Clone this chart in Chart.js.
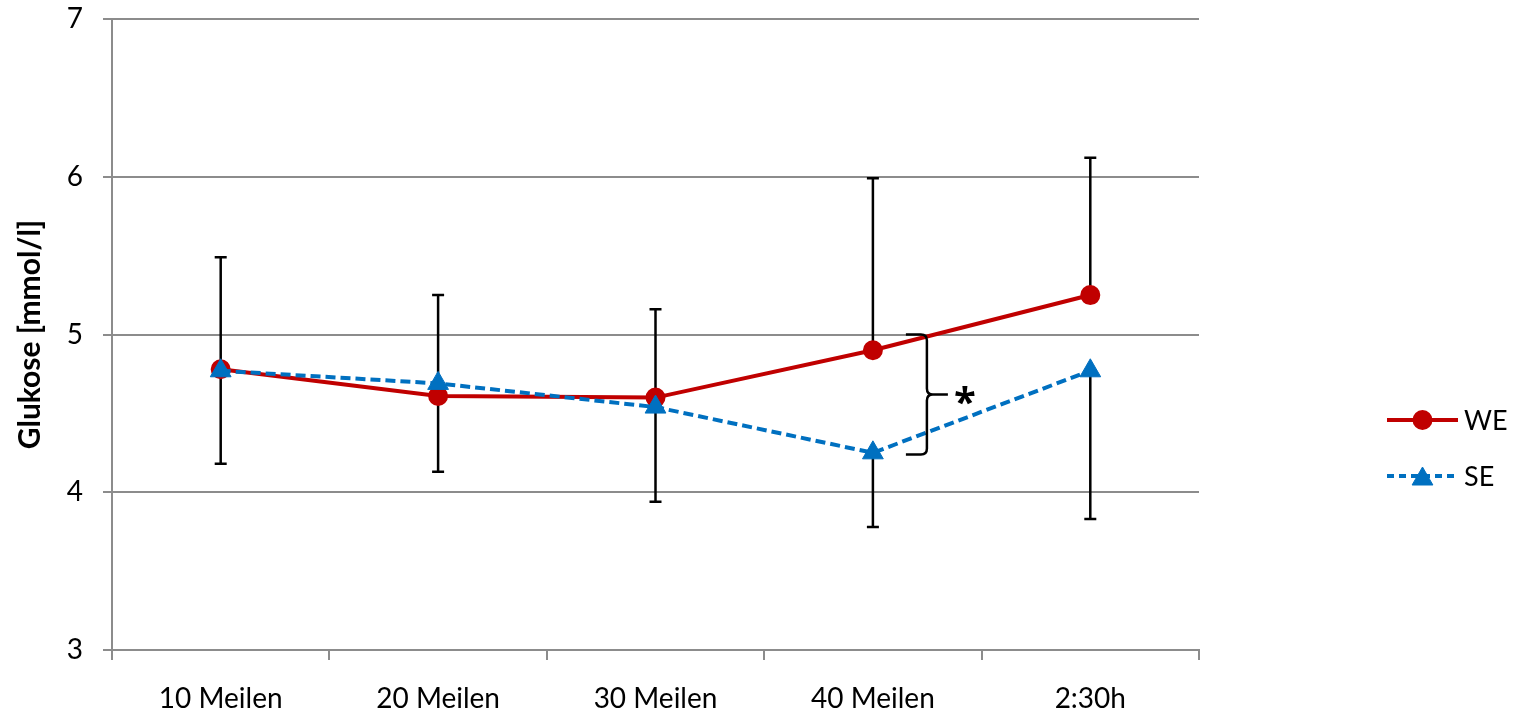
<!DOCTYPE html>
<html>
<head>
<meta charset="utf-8">
<script src="https://cdn.jsdelivr.net/npm/chart.js@4.4.1/dist/chart.umd.min.js"></script>
<style>
  html, body { margin: 0; padding: 0; background: #fff; }
  #wrap { width: 1514px; height: 719px; position: relative; }
</style>
</head>
<body>
<div id="wrap"><canvas id="c" width="1514" height="719"></canvas></div>
<script>
// ---- data ----
const categories = ['10 Meilen', '20 Meilen', '30 Meilen', '40 Meilen', '2:30h'];
const weValues = [4.78, 4.61, 4.60, 4.90, 5.25];
const seValues = [4.77, 4.69, 4.54, 4.25, 4.77];
const weErrPlus = [0.71, 0.64, 0.56, 1.09, 0.87];   // WE: upper error bar
const seErrMinus = [0.59, 0.56, 0.60, 0.47, 0.94];  // SE: lower error bar
const yTicks = [3, 4, 5, 6, 7];
const seriesNames = ['WE', 'SE'];
const yTitle = 'Glukose [mmol/l]';
const sigCategory = 3;           // "40 Meilen"
const sigRange = [5.0, 4.24];    // bracket spans these values
const sigLabel = '*';

const FONT = 'Lato, "Open Sans", sans-serif';
const RED = '#C00000';
const BLUE = '#0070C0';
const GRID = '#8c8c8c';

const errorBarPlugin = {
  id: 'errorBars',
  beforeDatasetsDraw(chart) {
    const ctx = chart.ctx, x = chart.scales.x, y = chart.scales.y;
    ctx.save();
    ctx.strokeStyle = '#000';
    ctx.lineWidth = 2.5;
    const cap = 6;
    categories.forEach((c, i) => {
      const px = x.getPixelForValue(i);
      const wTop = y.getPixelForValue(weValues[i] + weErrPlus[i]);
      const wBase = y.getPixelForValue(weValues[i]);
      const sBot = y.getPixelForValue(seValues[i] - seErrMinus[i]);
      const sBase = y.getPixelForValue(seValues[i]);
      ctx.beginPath();
      ctx.moveTo(px, wBase); ctx.lineTo(px, wTop);
      ctx.moveTo(px - cap, wTop); ctx.lineTo(px + cap, wTop);
      ctx.moveTo(px, sBase); ctx.lineTo(px, sBot);
      ctx.moveTo(px - cap, sBot); ctx.lineTo(px + cap, sBot);
      ctx.stroke();
    });
    ctx.restore();
  },
  afterDatasetsDraw(chart) {
    // significance bracket
    const ctx = chart.ctx, x = chart.scales.x, y = chart.scales.y;
    const cx = x.getPixelForValue(sigCategory);
    const top = y.getPixelForValue(sigRange[0]);
    const bot = y.getPixelForValue(sigRange[1]);
    const mid = (top + bot) / 2;
    const xl = cx + 33, xv = cx + 54, xr = cx + 75, r = 6;
    ctx.save();
    ctx.strokeStyle = '#000';
    ctx.lineWidth = 2.5;
    ctx.beginPath();
    ctx.moveTo(xl, top);
    ctx.lineTo(xv - r, top);
    ctx.quadraticCurveTo(xv, top, xv, top + r);
    ctx.lineTo(xv, mid - r);
    ctx.quadraticCurveTo(xv, mid, xv + r, mid);
    ctx.lineTo(xr, mid);
    ctx.moveTo(xv + r, mid);
    ctx.quadraticCurveTo(xv, mid, xv, mid + r);
    ctx.lineTo(xv, bot - r);
    ctx.quadraticCurveTo(xv, bot, xv - r, bot);
    ctx.lineTo(xl, bot);
    ctx.stroke();
    ctx.fillStyle = '#000';
    ctx.font = 'bold 40px "Open Sans", sans-serif';
    ctx.textAlign = 'center';
    ctx.textBaseline = 'alphabetic';
    const m = ctx.measureText(sigLabel);
    const a = m.actualBoundingBoxAscent, d = m.actualBoundingBoxDescent;
    const cyStar = mid + 1;
    ctx.fillText(sigLabel, cx + 92, cyStar + (a - d) / 2);
    ctx.restore();
  },
  afterDraw(chart) {
    // custom legend: line + marker + label
    const ctx = chart.ctx;
    const x0 = 1387, x1 = 1458, ys = [420, 476];
    chart.data.datasets.forEach((ds, i) => {
      const yy = ys[i];
      const mx = (x0 + x1) / 2;
      ctx.save();
      ctx.strokeStyle = ds.borderColor;
      ctx.lineWidth = ds.borderWidth;
      ctx.setLineDash(ds.borderDash ? [7, 5] : []);
      ctx.beginPath(); ctx.moveTo(x0, yy); ctx.lineTo(x1, yy); ctx.stroke();
      ctx.setLineDash([]);
      ctx.fillStyle = ds.pointBackgroundColor;
      ctx.strokeStyle = ds.pointBorderColor;
      ctx.lineWidth = ds.pointBorderWidth;
      ctx.beginPath();
      if (ds.pointStyle === 'circle') { ctx.arc(mx, yy, ds.pointRadius, 0, Math.PI * 2); }
      else { const rr = ds.pointRadius; const c = yy + 3; ctx.moveTo(mx, c - rr); ctx.lineTo(mx + rr * 0.866, c + rr / 2); ctx.lineTo(mx - rr * 0.866, c + rr / 2); ctx.closePath(); }
      ctx.fill(); ctx.stroke();
      ctx.fillStyle = '#000';
      ctx.font = '27px ' + FONT;
      ctx.textAlign = 'left';
      ctx.textBaseline = 'middle';
      ctx.fillText(ds.label, 1464, yy + 1);
      ctx.restore();
    });
  }
};

new Chart(document.getElementById('c'), {
  type: 'line',
  data: {
    labels: categories,
    datasets: [
      {
        label: seriesNames[0], data: weValues, order: 1,
        borderColor: RED, backgroundColor: RED, borderWidth: 4,
        pointStyle: 'circle', pointRadius: 9, pointBorderWidth: 2,
        pointBackgroundColor: RED, pointBorderColor: RED, tension: 0
      },
      {
        label: seriesNames[1], data: seValues, order: 0,
        borderColor: BLUE, backgroundColor: BLUE, borderWidth: 4, borderDash: [10, 5],
        pointStyle: 'triangle', pointRadius: 12, pointBorderWidth: 1,
        pointBackgroundColor: BLUE, pointBorderColor: BLUE, tension: 0
      }
    ]
  },
  options: {
    responsive: false,
    animation: false,
    devicePixelRatio: 1,
    layout: { padding: { top: 19, right: 315, left: 0, bottom: 0 } },
    plugins: { legend: { display: false }, tooltip: { enabled: false } },
    scales: {
      x: {
        type: 'category',
        offset: true,
        grid: { offset: true, drawOnChartArea: false, drawTicks: true, tickLength: 10, color: GRID, lineWidth: 2 },
        border: { color: GRID, width: 2 },
        ticks: { color: '#000', font: { family: FONT, size: 28 }, padding: 22, maxRotation: 0 },
        afterFit(s) { s.height = 69; s.paddingLeft = 0; s.paddingRight = 0; }
      },
      y: {
        min: 3, max: 7,
        afterBuildTicks(s) { s.ticks = yTicks.map(v => ({ value: v })); },
        grid: { color: GRID, lineWidth: 2, tickLength: 9 },
        border: { color: GRID, width: 2 },
        ticks: { color: '#000', font: { family: FONT, size: 28 }, padding: 20 },
        title: { display: true, text: yTitle, color: '#000', font: { family: FONT, size: 30, weight: 'bold' }, padding: { top: 12, bottom: 0 } },
        afterFit(s) { s.width = 112; s.paddingTop = 0; s.paddingBottom = 0; }
      }
    }
  },
  plugins: [errorBarPlugin]
});
</script>
</body>
</html>
